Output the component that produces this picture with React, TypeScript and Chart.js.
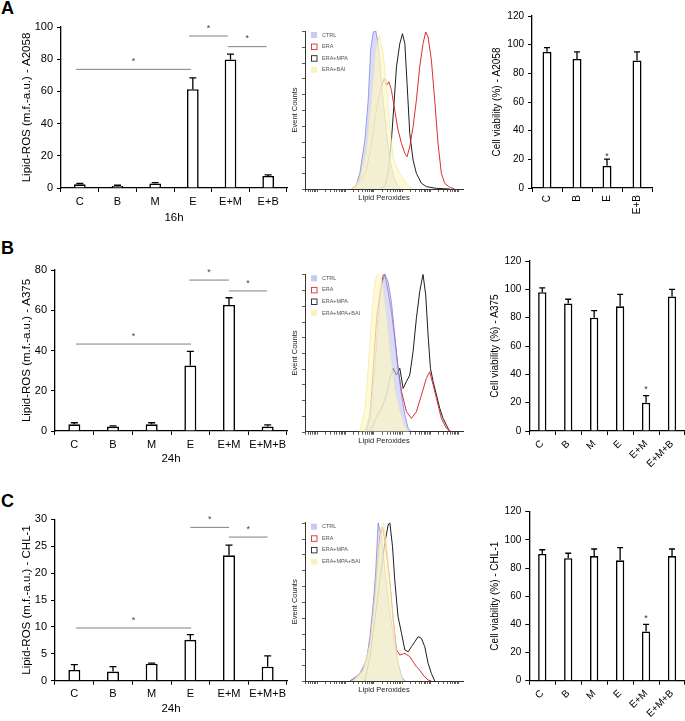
import React, { useEffect, useRef } from 'react';
import { Chart, registerables } from 'chart.js';

Chart.register(...registerables);

const FONT = "'Liberation Sans', Arial, sans-serif";
Chart.defaults.font.family = FONT;
Chart.defaults.color = '#000';

// ---------- Lipid-ROS bar data ----------
const ROS_A_CATS = ['C', 'B', 'M', 'E', 'E+M', 'E+B'];
const ROS_A_VALS = [2.3, 1.3, 2.8, 61.4, 79.8, 7.5];
const ROS_A_ERRS = [0.5, 0.4, 0.6, 7.0, 3.3, 0.6];
const ROS_A_SIG = [[-0.1, 2.95, 73.7], [2.9, 3.93, 94.4], [3.93, 4.96, 87.8]];

const ROS_B_CATS = ['C', 'B', 'M', 'E', 'E+M', 'E+M+B'];
const ROS_B_VALS = [3.3, 2.2, 3.3, 32.5, 62.6, 2.2];
const ROS_B_ERRS = [0.8, 0.3, 0.8, 7.1, 3.6, 0.8];
const ROS_B_SIG = [[0.04, 3.02, 43.2], [2.97, 4.0, 75.0], [4.0, 4.98, 69.6]];

const ROS_C_CATS = ['C', 'B', 'M', 'E', 'E+M', 'E+M+B'];
const ROS_C_VALS = [2.0, 1.7, 3.15, 7.6, 23.3, 2.6];
const ROS_C_ERRS = [1.0, 0.9, 0.1, 0.95, 1.9, 2.0];
const ROS_C_SIG = [[0.04, 3.02, 9.8], [3.0, 4.0, 28.5], [4.0, 5.0, 26.7]];

// ---------- Cell viability bar data ----------
const VIA_A_CATS = ['C', 'B', 'E', 'E+B'];
const VIA_A_VALS = [95, 90, 15.5, 89];
const VIA_A_ERRS = [3, 5, 4.7, 6];
const VIA_A_STARS = [[2, 24]];

const VIA_B_CATS = ['C', 'B', 'M', 'E', 'E+M', 'E+M+B'];
const VIA_B_VALS = [98, 90, 80, 88, 20, 95];
const VIA_B_ERRS = [3, 3, 5, 8.5, 5, 5];
const VIA_B_STARS = [[4, 31]];

const VIA_C_CATS = ['C', 'B', 'M', 'E', 'E+M', 'E+M+B'];
const VIA_C_VALS = [90, 87, 88.5, 85.5, 35, 88.5];
const VIA_C_ERRS = [3, 3.5, 5, 9, 5, 5];
const VIA_C_STARS = [[4, 46]];

// ---------- Flow cytometry histograms (x: % of axis, y: % of max) ----------
const HIST_A_LEGEND = ['CTRL', 'ERA', 'ERA+MPA', 'ERA+BAI'];
const HIST_A_CTRL = [[31.6, 0], [34.7, 9.9], [37.9, 30.9], [40.0, 56.2], [41.5, 87.8], [43.2, 99.4], [44.8, 100], [46.3, 92], [48.4, 66.7], [51.6, 35.2], [53.7, 18.3], [56.8, 5.7], [60.0, 0]];
const HIST_A_BAI = [[29.5, 0], [34.7, 5.7], [38.9, 24.6], [42.1, 56.2], [44.8, 87.8], [46.9, 97.3], [49.5, 85.7], [51.6, 66.7], [53.7, 39.4], [55.8, 20.4], [57.9, 14.1], [61.1, 7.8], [64.2, 3.6], [68.4, 0]];
const HIST_A_ERA = [[29.5, 0], [32.6, 2.5], [35.8, 5.7], [38.9, 12], [42.1, 28.8], [44.2, 43.6], [46.3, 56.2], [48.4, 64.6], [50.1, 69.9], [51.6, 65.7], [53.1, 67.8], [54.7, 62.5], [56.8, 49.9], [58.9, 37.3], [61.1, 28.8], [63.2, 22.5], [64.6, 20.4], [66.3, 26.7], [68.4, 39.4], [70.5, 56.2], [72.6, 77.3], [74.7, 92], [76.4, 99.4], [77.9, 96.2], [80, 81.5], [82.1, 56.2], [84.2, 28.8], [86.3, 9.9], [88.4, 3.6], [91.6, 1.1], [94.7, 0]];
const HIST_A_MPA = [[47.4, 0], [50.5, 1.5], [52.6, 9.9], [54.7, 30.9], [56.2, 52], [57.9, 77.3], [60, 92], [61.7, 98.3], [63.2, 92], [64.6, 66.7], [66.3, 35.2], [68.4, 18.3], [70.5, 9.9], [73.7, 3.6], [76.8, 1.5], [83.2, 0.4], [91.6, 0]];

const HIST_B_LEGEND = ['CTRL', 'ERA', 'ERA+MPA', 'ERA+MPA+BAI'];
const HIST_B_CTRL = [[37.9, 0], [41.1, 10.6], [44.2, 40.3], [46.3, 72], [48.4, 93.2], [50.5, 100], [52.6, 95.3], [54.7, 82.6], [56.8, 61.4], [58.9, 40.3], [61.1, 23.3], [63.2, 10.6], [65.3, 2.1], [67.4, 0]];
const HIST_B_BAI = [[34.7, 0], [37.9, 14.8], [40, 40.3], [42.1, 72], [44.2, 95.3], [45.7, 100], [48.4, 97.5], [50.5, 82.6], [52.6, 63.6], [54.7, 44.5], [56.8, 27.5], [60, 12.7], [63.2, 3.2], [65.3, 0]];
const HIST_B_ERA = [[38.9, 0], [41.1, 8.5], [43.2, 40.3], [45.3, 72], [47.4, 87.9], [49.5, 99.6], [50.5, 100], [52.6, 89], [54.7, 76.3], [56.8, 59.3], [58.9, 40.3], [61.1, 25.4], [64.2, 12.7], [67.4, 8.5], [70.5, 12.7], [73.7, 23.3], [76.8, 33.9], [78.9, 38.1], [81.1, 29.7], [83.2, 21.2], [86.3, 8.5], [89.5, 2.1], [92.6, 0]];
const HIST_B_MPA = [[41.1, 0], [43.2, 4.2], [45.3, 9.5], [48.4, 14.8], [51.6, 23.3], [53.7, 33.9], [55.8, 40.3], [57.9, 36], [60, 40.3], [62.1, 27.5], [64.2, 31.8], [66.3, 36], [68.4, 50.8], [70.5, 72], [72.6, 89], [74.7, 100], [76.4, 86.9], [77.9, 61.4], [79.4, 40.3], [81.1, 31.8], [83.2, 23.3], [85.3, 14.8], [87.4, 8.5], [89.5, 4.2], [91.6, 0]];

const HIST_C_LEGEND = ['CTRL', 'ERA', 'ERA+MPA', 'ERA+MPA+BAI'];
const HIST_C_CTRL = [[28.4, 0], [34.7, 4.8], [38.9, 13.3], [41.1, 28], [43.2, 49.1], [44.8, 70.1], [46.3, 100], [48.4, 91.2], [50.5, 70.1], [53.7, 42.7], [56.8, 23.8], [58.9, 11.2], [61.1, 2.7], [63.2, 0]];
const HIST_C_BAI = [[30.5, 0], [36.8, 6.9], [41.1, 23.8], [44.2, 53.3], [46.3, 80.6], [48.4, 97.5], [49.9, 100], [51.6, 86.9], [53.7, 63.8], [55.8, 40.6], [57.9, 19.6], [60, 6.9], [62.1, 0]];
const HIST_C_ERA = [[28.4, 0], [33.7, 2.7], [37.9, 9.1], [41.1, 23.8], [44.2, 53.3], [47.4, 91.2], [49.1, 97.1], [51.2, 84.8], [53.7, 61.7], [55.8, 38.5], [57.9, 19.6], [60, 16.4], [63.2, 17.5], [66.3, 15.4], [68.4, 12.2], [70.5, 9.1], [72.6, 6.9], [74.7, 3.8], [77.9, 0.6], [80, 0]];
const HIST_C_MPA = [[37.9, 0], [41.1, 15.4], [44.2, 38.5], [47.4, 63.8], [50.5, 86.9], [52.6, 98.5], [53.7, 100], [55.4, 84.8], [56.8, 63.8], [58.9, 40.6], [61.1, 30.1], [63.2, 19.6], [65.3, 18.5], [67.4, 21.7], [69.5, 24.8], [71.6, 28], [73.7, 26.9], [75.8, 21.7], [77.9, 11.2], [80, 4.8], [82.1, 0]];

// log-decade tick marks of the fluorescence axis (in % of axis width)
const LOG_FIRST_DECADE = 7.4;
const LOG_DECADE_WIDTH = 17.9;
const LOG_TICKS: number[] = [];
for (let d = -1; d <= 5; d++) {
  for (let k = 1; k <= 9; k++) {
    const v = LOG_FIRST_DECADE + LOG_DECADE_WIDTH * (d + Math.log10(k));
    if (v >= 0 && v <= 100) LOG_TICKS.push(v);
  }
}
const COUNT_TICKS = [0, 10, 20, 30, 40, 50, 60, 70, 80, 90, 100];

type BarProps = {
  box: number[];
  plot: number[];
  titleX: number;
  titleSize: number;
  tickSize: number;
  cats: string[];
  vals: number[];
  errs: number[];
  yMax: number;
  yStep: number;
  yTitle: string;
  xTitle?: string;
  rotation: number;
  barPct: number;
  capW: number;
  sig?: number[][];
  stars?: number[][];
};

function BarPanel(p: BarProps) {
  const ref = useRef<HTMLCanvasElement>(null);
  useEffect(() => {
    const [cl, ct, cw, ch] = p.box;
    const [L, T, R, B] = p.plot;
    const titleOff = (p.titleSize * 1.2) / 2;
    const padL = p.titleX - cl - titleOff;
    const yW = L - cl - padL;
    const xH = ct + ch - B;
    const overlay = {
      id: 'overlay',
      afterDatasetsDraw(chart: any) {
        const ctx = chart.ctx;
        const xs = chart.scales.x;
        const ys = chart.scales.y;
        ctx.save();
        ctx.strokeStyle = '#000';
        ctx.lineWidth = 1.3;
        p.vals.forEach((v, i) => {
          const x = xs.getPixelForValue(i);
          const y0 = ys.getPixelForValue(v);
          const y1 = ys.getPixelForValue(v + p.errs[i]);
          ctx.beginPath();
          ctx.moveTo(x, y0);
          ctx.lineTo(x, y1);
          ctx.moveTo(x - p.capW / 2, y1);
          ctx.lineTo(x + p.capW / 2, y1);
          ctx.stroke();
        });
        ctx.font = `9px ${FONT}`;
        ctx.textAlign = 'center';
        ctx.textBaseline = 'alphabetic';
        (p.sig || []).forEach(([a, b, v]) => {
          const xa = xs.getPixelForValue(a);
          const xb = xs.getPixelForValue(b);
          const y = ys.getPixelForValue(v);
          ctx.strokeStyle = '#808080';
          ctx.lineWidth = 1;
          ctx.beginPath();
          ctx.moveTo(xa, y);
          ctx.lineTo(xb, y);
          ctx.stroke();
          ctx.fillStyle = '#444';
          ctx.fillText('*', (xa + xb) / 2, y - 10.5 + 5.2);
        });
        (p.stars || []).forEach(([i, v]) => {
          ctx.fillStyle = '#333';
          ctx.fillText('*', xs.getPixelForValue(i), ys.getPixelForValue(v) + 5.2);
        });
        ctx.restore();
      },
    };
    const chart = new Chart(ref.current as HTMLCanvasElement, {
      type: 'bar',
      data: {
        labels: p.cats,
        datasets: [
          {
            data: p.vals,
            backgroundColor: '#ffffff',
            borderColor: '#000000',
            borderWidth: 1.6,
            barPercentage: p.barPct,
            categoryPercentage: 1,
          },
        ],
      },
      options: {
        responsive: false,
        animation: false,
        layout: { padding: { left: padL, top: T - ct, right: cl + cw - R, bottom: 0 } },
        plugins: { legend: { display: false }, tooltip: { enabled: false } },
        scales: {
          x: {
            grid: { display: true, drawOnChartArea: false, drawTicks: true, tickLength: 4, color: '#000', offset: true },
            border: { color: '#000', width: 1.3 },
            ticks: {
              font: { size: p.tickSize, family: FONT },
              color: '#000',
              padding: 3,
              minRotation: p.rotation,
              maxRotation: p.rotation,
              autoSkip: false,
            },
            title: p.xTitle
              ? { display: true, text: p.xTitle, font: { size: p.titleSize, family: FONT }, color: '#000', padding: 0 }
              : { display: false },
            afterFit: (s: any) => {
              s.height = xH;
              s.paddingLeft = 0;
              s.paddingRight = 0;
            },
          },
          y: {
            min: 0,
            max: p.yMax,
            ticks: { stepSize: p.yStep, font: { size: p.tickSize, family: FONT }, color: '#000', padding: 4 },
            grid: { display: true, drawOnChartArea: false, drawTicks: true, tickLength: 4, color: '#000' },
            border: { color: '#000', width: 1.3 },
            title: { display: true, text: p.yTitle, font: { size: p.titleSize, family: FONT }, color: '#000', padding: 0 },
            afterFit: (s: any) => {
              s.width = yW;
              s.paddingTop = 0;
              s.paddingBottom = 0;
            },
          },
        },
      },
      plugins: [overlay],
    } as any);
    return () => chart.destroy();
  }, []);
  return (
    <canvas
      ref={ref}
      width={p.box[2]}
      height={p.box[3]}
      style={{ position: 'absolute', left: p.box[0], top: p.box[1], width: p.box[2], height: p.box[3] }}
    />
  );
}

type HistProps = {
  box: number[];
  plot: number[];
  legend: string[];
  ctrl: number[][];
  bai: number[][];
  era: number[][];
  mpa: number[][];
};

const SWATCHES = [
  { fill: 'rgba(195,200,244,0.95)', stroke: null },
  { fill: null, stroke: '#d93030' },
  { fill: null, stroke: '#222' },
  { fill: 'rgba(252,240,185,0.95)', stroke: null },
];

function HistPanel(p: HistProps) {
  const ref = useRef<HTMLCanvasElement>(null);
  useEffect(() => {
    const [cl, ct, cw, ch] = p.box;
    const [L, T, R, B] = p.plot;
    const tSize = 7.5;
    const padL = 295 - cl - (tSize * 1.2) / 2;
    const yW = L - cl - padL;
    const xH = ct + ch - B;
    const toXY = (arr: number[][]) => arr.map(([x, y]) => ({ x, y }));
    const decorPlugin = {
      id: 'histDecor',
      afterDraw(chart: any) {
        const ctx = chart.ctx;
        const a = chart.chartArea;
        const xs = chart.scales.x;
        const ys = chart.scales.y;
        ctx.save();
        ctx.strokeStyle = '#333';
        ctx.lineWidth = 0.8;
        ctx.beginPath();
        LOG_TICKS.forEach((v) => {
          const px = Math.round(xs.getPixelForValue(v)) + 0.5;
          ctx.moveTo(px, a.bottom);
          ctx.lineTo(px, a.bottom + 3);
        });
        COUNT_TICKS.forEach((v) => {
          const py = Math.round(ys.getPixelForValue(v)) + 0.5;
          ctx.moveTo(a.left - 3, py);
          ctx.lineTo(a.left, py);
        });
        ctx.stroke();
        ctx.font = `5.5px ${FONT}`;
        ctx.textBaseline = 'middle';
        ctx.textAlign = 'left';
        p.legend.forEach((lab, i) => {
          const cy = a.top + 4 + i * 11.6;
          const sx = a.left + 6;
          const sw = SWATCHES[i];
          if (sw.fill) {
            ctx.fillStyle = sw.fill;
            ctx.fillRect(sx, cy - 3, 6, 6);
          }
          if (sw.stroke) {
            ctx.strokeStyle = sw.stroke;
            ctx.lineWidth = 0.9;
            ctx.strokeRect(sx + 0.5, cy - 2.5, 5.5, 5.5);
          }
          ctx.fillStyle = '#555';
          ctx.fillText(lab, a.left + 17, cy);
        });
        ctx.restore();
      },
    };
    const chart = new Chart(ref.current as HTMLCanvasElement, {
      type: 'line',
      data: {
        datasets: [
          {
            data: toXY(p.bai),
            borderColor: 'rgba(240,230,165,0.9)',
            backgroundColor: 'rgba(253,248,195,0.72)',
            borderWidth: 0.7,
            fill: 'origin',
            pointRadius: 0,
            order: 0,
          },
          {
            data: toXY(p.ctrl),
            borderColor: 'rgba(110,120,230,0.85)',
            backgroundColor: 'rgba(190,195,245,0.6)',
            borderWidth: 0.8,
            fill: 'origin',
            pointRadius: 0,
            order: 1,
          },
          {
            data: toXY(p.era),
            borderColor: '#d93030',
            borderWidth: 1,
            fill: false,
            pointRadius: 0,
            order: 2,
          },
          {
            data: toXY(p.mpa),
            borderColor: '#1e1e1e',
            borderWidth: 1,
            fill: false,
            pointRadius: 0,
            order: 3,
          },
        ],
      },
      options: {
        responsive: false,
        animation: false,
        layout: { padding: { left: padL, top: T - ct, right: cl + cw - R, bottom: 0 } },
        plugins: { legend: { display: false }, tooltip: { enabled: false } },
        scales: {
          x: {
            type: 'linear',
            min: 0,
            max: 100,
            ticks: { display: false },
            grid: { display: false },
            border: { color: '#333', width: 1 },
            title: { display: true, text: 'Lipid Peroxides', font: { size: tSize, family: FONT }, color: '#222', padding: 0 },
            afterFit: (s: any) => {
              s.height = xH;
              s.paddingLeft = 0;
              s.paddingRight = 0;
            },
          },
          y: {
            type: 'linear',
            min: 0,
            max: 100,
            ticks: { display: false, stepSize: 10 },
            grid: { display: false },
            border: { color: '#333', width: 1 },
            title: { display: true, text: 'Event Counts', font: { size: tSize, family: FONT }, color: '#222', padding: 0 },
            afterFit: (s: any) => {
              s.width = yW;
              s.paddingTop = 0;
              s.paddingBottom = 0;
            },
          },
        },
      },
      plugins: [decorPlugin],
    } as any);
    return () => chart.destroy();
  }, []);
  return (
    <canvas
      ref={ref}
      width={p.box[2]}
      height={p.box[3]}
      style={{ position: 'absolute', left: p.box[0], top: p.box[1], width: p.box[2], height: p.box[3] }}
    />
  );
}

const letterStyle = (top: number): React.CSSProperties => ({
  position: 'absolute',
  left: 1,
  top,
  fontFamily: FONT,
  fontWeight: 'bold',
  fontSize: 18,
  lineHeight: '18px',
  color: '#000',
});

export default function App() {
  return (
    <div style={{ position: 'absolute', left: 0, top: 0, width: 685, height: 721, background: '#fff', overflow: 'hidden' }}>
      <div style={letterStyle(-1)}>A</div>
      <div style={letterStyle(239)}>B</div>
      <div style={letterStyle(492)}>C</div>

      <BarPanel box={[0, 15, 300, 210]} plot={[61, 27, 287, 188]} titleX={27} titleSize={11.5} tickSize={11}
        cats={ROS_A_CATS} vals={ROS_A_VALS} errs={ROS_A_ERRS} yMax={100} yStep={20}
        yTitle="Lipid-ROS (m.f.-a.u.) - A2058" xTitle="16h" rotation={0} barPct={0.31} capW={7} sig={ROS_A_SIG} />
      <HistPanel box={[290, 20, 180, 182]} plot={[305, 31, 463, 189]} legend={HIST_A_LEGEND}
        ctrl={HIST_A_CTRL} bai={HIST_A_BAI} era={HIST_A_ERA} mpa={HIST_A_MPA} />
      <BarPanel box={[480, 4, 205, 221]} plot={[532, 16, 652, 188]} titleX={497} titleSize={10} tickSize={10}
        cats={VIA_A_CATS} vals={VIA_A_VALS} errs={VIA_A_ERRS} yMax={120} yStep={20}
        yTitle="Cell viability (%) - A2058" rotation={90} barPct={0.3} capW={6} stars={VIA_A_STARS} />

      <BarPanel box={[0, 258, 300, 208]} plot={[55, 270, 287, 431]} titleX={26.7} titleSize={11.5} tickSize={11}
        cats={ROS_B_CATS} vals={ROS_B_VALS} errs={ROS_B_ERRS} yMax={80} yStep={20}
        yTitle="Lipid-ROS (m.f.-a.u.) - A375" xTitle="24h" rotation={0} barPct={0.31} capW={7} sig={ROS_B_SIG} />
      <HistPanel box={[290, 262, 180, 183]} plot={[305, 274.3, 463, 431.7]} legend={HIST_B_LEGEND}
        ctrl={HIST_B_CTRL} bai={HIST_B_BAI} era={HIST_B_ERA} mpa={HIST_B_MPA} />
      <BarPanel box={[480, 250, 205, 220]} plot={[529.3, 261, 685, 431]} titleX={495} titleSize={10} tickSize={10}
        cats={VIA_B_CATS} vals={VIA_B_VALS} errs={VIA_B_ERRS} yMax={120} yStep={20}
        yTitle="Cell viability (%) - A375" rotation={45} barPct={0.32} capW={6} stars={VIA_B_STARS} />

      <BarPanel box={[0, 505, 300, 211]} plot={[55, 519.3, 287, 680.7]} titleX={26.7} titleSize={11.5} tickSize={11}
        cats={ROS_C_CATS} vals={ROS_C_VALS} errs={ROS_C_ERRS} yMax={30} yStep={5}
        yTitle="Lipid-ROS (m.f.-a.u.) - CHL-1" xTitle="24h" rotation={0} barPct={0.31} capW={7} sig={ROS_C_SIG} />
      <HistPanel box={[290, 510, 180, 184]} plot={[305, 522.7, 463, 681]} legend={HIST_C_LEGEND}
        ctrl={HIST_C_CTRL} bai={HIST_C_BAI} era={HIST_C_ERA} mpa={HIST_C_MPA} />
      <BarPanel box={[480, 500, 205, 221]} plot={[529.3, 511.7, 685, 680.7]} titleX={495} titleSize={10} tickSize={10}
        cats={VIA_C_CATS} vals={VIA_C_VALS} errs={VIA_C_ERRS} yMax={120} yStep={20}
        yTitle="Cell viability (%) - CHL-1" rotation={45} barPct={0.32} capW={6} stars={VIA_C_STARS} />
    </div>
  );
}
